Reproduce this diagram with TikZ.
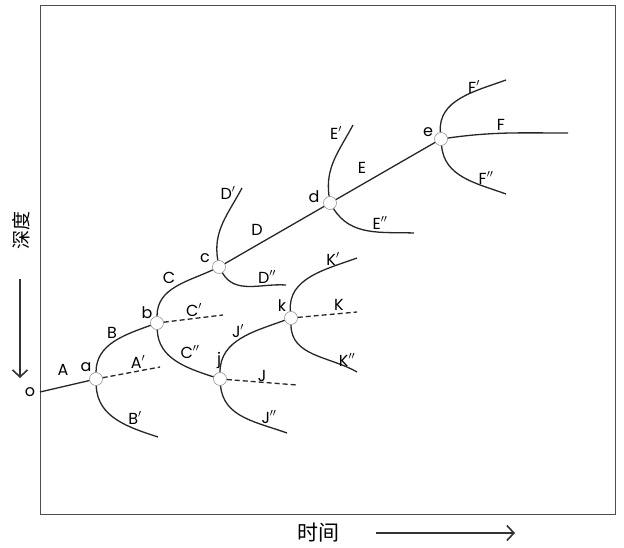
\documentclass[tikz,border=0pt]{standalone}
\usepackage{fontspec}
\setmainfont{Poppins}
\newfontfamily\cjk{Noto Sans CJK SC}
\usetikzlibrary{arrows.meta}

\begin{document}
\begin{tikzpicture}[
	x=1pt, y=-1pt,
	font=\fontsize{16}{18}\selectfont,
	nudo/.style={circle, draw=black!40, fill=white, line width=0.6pt, minimum size=13pt, inner sep=0pt},
	rama/.style={draw=black!85, line width=1.3pt},
	ramaRota/.style={rama, dashed, dash pattern=on 5pt off 3pt},
	etiqueta/.style={inner sep=1pt},
	flecha/.style={draw=black!80, line width=1.3pt, -{Straight Barb[length=7pt, width=15pt, line width=1.6pt]}},
	]
\useasboundingbox (0,0) rectangle (624,548);

% Marco
\draw[black!70, line width=1pt] (40,6) rectangle (615,514);

% Nudos de ramificacion
\node[nudo] (a) at (96,379) {};
\node[nudo] (b) at (157,323) {};
\node[nudo] (c) at (219,267) {};
\node[nudo] (d) at (330,203) {};
\node[nudo] (e) at (441,139) {};
\node[nudo] (j) at (220,379) {};
\node[nudo] (k) at (291,318) {};

% Extremos libres
\coordinate (o0) at (40,392);
\coordinate (fA) at (160,367);
\coordinate (fB) at (158,437);
\coordinate (fC) at (223,315);
\coordinate (fD1) at (242,188);
\coordinate (fD2) at (286,285);
\coordinate (fE1) at (353,125);
\coordinate (fE2) at (414,233);
\coordinate (fF1) at (506,80);
\coordinate (fF) at (568,133);
\coordinate (fF2) at (506,194);
\coordinate (fJ) at (297,385);
\coordinate (fJ2) at (287,433);
\coordinate (fK1) at (357,258);
\coordinate (fK) at (357,312);
\coordinate (fK2) at (357,372);

% Ramas
\draw[rama] (o0) -- (a);
\draw[ramaRota] (a) -- (fA);
\draw[rama] (a) to[out=90, in=200] (b);
\draw[rama] (a) to[out=-88, in=162] (fB);
\draw[ramaRota] (b) -- (fC);
\draw[rama] (b) to[out=90, in=205] (c);
\draw[rama] (b) to[out=-88, in=162] (j);
\draw[rama] (c) to[out=100, in=-118] (fD1);
\draw[rama] (c) to[out=-60, in=176] (fD2);
\draw[rama] (c) -- (d);
\draw[rama] (d) to[out=98, in=-118] (fE1);
\draw[rama] (d) to[out=-58, in=178] (fE2);
\draw[rama] (d) -- (e);
\draw[rama] (e) to[out=95, in=200] (fF1);
\draw[rama] (e) to[out=8, in=180] (fF);
\draw[rama] (e) to[out=-85, in=160] (fF2);
\draw[ramaRota] (j) -- (fJ);
\draw[rama] (j) to[out=90, in=200] (k);
\draw[rama] (j) to[out=-85, in=160] (fJ2);
\draw[ramaRota] (k) -- (fK);
\draw[rama] (k) to[out=95, in=200] (fK1);
\draw[rama] (k) to[out=-90, in=150] (fK2);

% Rotulos
\node[etiqueta] (lo) at (30,392) {o};
\node[etiqueta] (lA) at (63,370) {A};
\node[etiqueta] (la) at (86,367) {a};
\node[etiqueta] (lA1) at (138,362) {A$'$};
\node[etiqueta] (lB) at (112,333) {B};
\node[etiqueta] (lB1) at (135,418) {B$'$};
\node[etiqueta] (lb) at (147,313) {b};
\node[etiqueta] (lC) at (169,278) {C};
\node[etiqueta] (lC1) at (194,310) {C$'$};
\node[etiqueta] (lC2) at (190,352) {C$''$};
\node[etiqueta] (lc) at (205,258) {c};
\node[etiqueta] (lD1) at (228,193) {D$'$};
\node[etiqueta] (lD) at (257,230) {D};
\node[etiqueta] (lD2) at (267,277) {D$''$};
\node[etiqueta] (ld) at (314,197) {d};
\node[etiqueta] (lE1) at (336,133) {E$'$};
\node[etiqueta] (lE) at (362,168) {E};
\node[etiqueta] (lE2) at (380,223) {E$''$};
\node[etiqueta] (le) at (428,132) {e};
\node[etiqueta] (lF1) at (474,87) {F$'$};
\node[etiqueta] (lF) at (501,125) {F};
\node[etiqueta] (lF2) at (486,178) {F$''$};
\node[etiqueta] (lj) at (219,360) {j};
\node[etiqueta] (lJ1) at (238,331) {J$'$};
\node[etiqueta] (lJ) at (262,376) {J};
\node[etiqueta] (lJ2) at (269,417) {J$''$};
\node[etiqueta] (lk) at (282,306) {k};
\node[etiqueta] (lK1) at (333,259) {K$'$};
\node[etiqueta] (lK) at (339,305) {K};
\node[etiqueta] (lK2) at (347,360) {K$''$};

% Ejes
\node[font=\cjk\fontsize{19}{19}\selectfont, rotate=90] (prof) at (21,231) {深度};
\coordinate (p0) at (20,279);
\coordinate (p1) at (20,378);
\draw[flecha] (p0) -- (p1);
\node[font=\cjk\fontsize{21}{21}\selectfont] (tiempo) at (318,533) {时间};
\coordinate (t0) at (376,533);
\coordinate (t1) at (515,533);
\draw[flecha] (t0) -- (t1);

\end{tikzpicture}
\end{document}
